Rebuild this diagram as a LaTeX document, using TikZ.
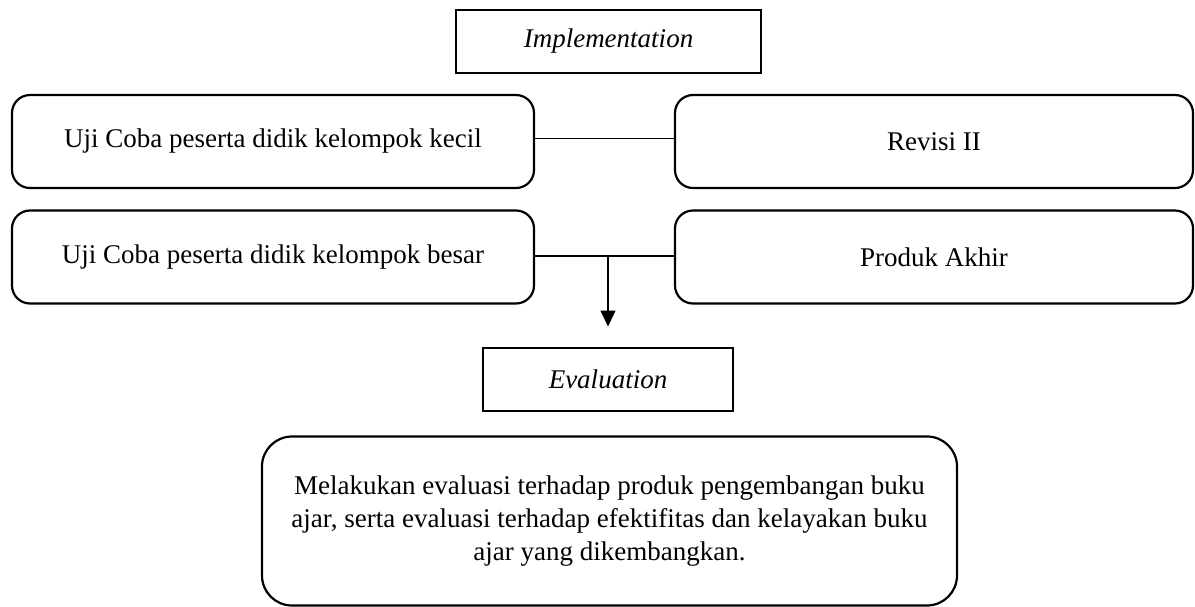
\documentclass[tikz,border=0pt]{standalone}
\usepackage{fontspec}
\setmainfont{Liberation Serif}
\usetikzlibrary{arrows.meta,calc,positioning}

\begin{document}
\begin{tikzpicture}[x=0.5pt,y=-0.5pt,>={Triangle[length=8pt,width=7.5pt]},
  phase/.style={draw,line width=1pt,font=\fontsize{13.5}{16}\selectfont\itshape,
    minimum height=31.5pt,inner sep=0pt},
  stage/.style={draw,line width=1.1pt,rounded corners=9pt,minimum height=46.5pt,
    font=\fontsize{13.5}{16}\selectfont,inner sep=0pt},
  link/.style={line width=0.6pt}]
\useasboundingbox (0,0) rectangle (1195,606);
% implementation stage
\node[phase,minimum width=152.5pt] (impl) at (608.5,41.5) {Implementation};
\node[stage,minimum width=261pt] (kecil) at (273,141.5) {Uji Coba peserta didik kelompok kecil};
\node[stage,minimum width=259pt] (revisi) at (934,141.5) {Revisi II};
\node[stage,minimum width=261pt] (besar) at (273,257) {Uji Coba peserta didik kelompok besar};
\node[stage,minimum width=259pt] (produk) at (934,257) {Produk Akhir};
\draw[link] ([yshift=1.5pt]kecil.east) -- ([yshift=1.5pt]revisi.west);
\draw[link] ([yshift=0.5pt]besar.east) -- ([yshift=0.5pt]produk.west);
% evaluation stage
\node[phase,minimum width=125pt] (eval) at (608,379) {Evaluation};
\node[stage,minimum width=347.5pt,minimum height=84.5pt,rounded corners=15pt,
  align=center,font=\fontsize{13.5}{16.5}\selectfont] (hasil) at (609.5,521)
  {Melakukan evaluasi terhadap produk pengembangan buku\\
   ajar, serta evaluasi terhadap efektifitas dan kelayakan buku\\
   ajar yang dikembangkan.};
\coordinate (split) at (608,256);
\draw[link,->,shorten >=10pt] (split) -- (split |- eval.north);
\end{tikzpicture}
\end{document}
